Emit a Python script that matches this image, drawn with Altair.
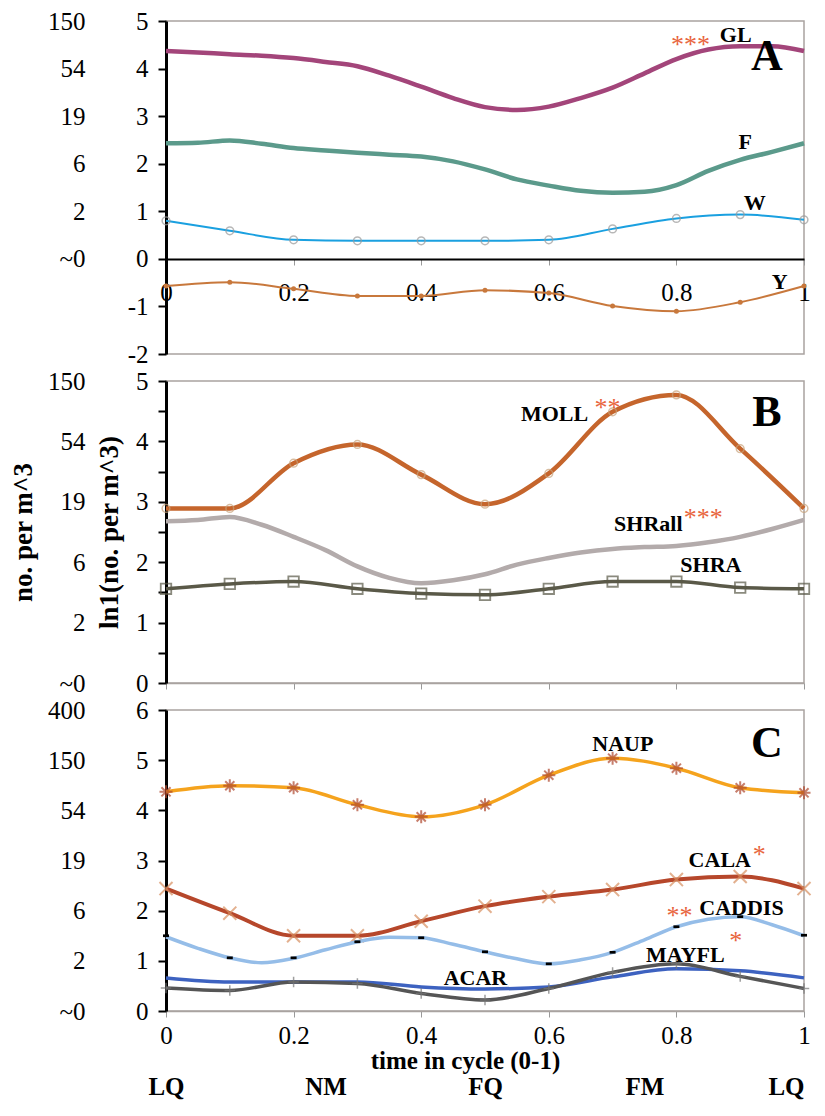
import altair as alt
import pandas as pd

FONT = "Liberation Serif"

# ---------------- data ----------------
T10 = [0.0, 0.1, 0.2, 0.3, 0.4, 0.5, 0.6, 0.7, 0.8, 0.9, 1.0]
T05 = [0.0, 0.05, 0.1, 0.15, 0.2, 0.25, 0.3, 0.35, 0.4, 0.45, 0.5,
       0.55, 0.6, 0.65, 0.7, 0.75, 0.8, 0.85, 0.9, 0.95, 1.0]

# Panel A
GL = [4.37, 4.34, 4.30, 4.27, 4.22, 4.14, 4.05, 3.85, 3.62, 3.38, 3.19,
      3.13, 3.20, 3.38, 3.60, 3.90, 4.20, 4.40, 4.47, 4.47, 4.37]
F = [2.43, 2.44, 2.49, 2.42, 2.33, 2.28, 2.23, 2.19, 2.15, 2.05, 1.88,
     1.67, 1.54, 1.43, 1.39, 1.41, 1.55, 1.85, 2.08, 2.25, 2.43]
W = [0.80, 0.59, 0.40, 0.38, 0.38, 0.38, 0.40, 0.63, 0.85, 0.93, 0.82]
Y = [-0.57, -0.49, -0.63, -0.78, -0.78, -0.66, -0.72, -0.99, -1.10, -0.91, -0.57]

# Panel B
MOLL = [2.89, 2.89, 3.64, 3.95, 3.45, 2.96, 3.47, 4.49, 4.77, 3.88, 2.89]
SHRALL = [2.68, 2.70, 2.75, 2.62, 2.42, 2.20, 1.93, 1.74, 1.65, 1.70, 1.80,
          1.96, 2.07, 2.16, 2.22, 2.25, 2.27, 2.33, 2.42, 2.55, 2.70]
SHRA = [1.56, 1.64, 1.68, 1.56, 1.48, 1.46, 1.56, 1.68, 1.68, 1.58, 1.56]

# Panel C
NAUP = [4.37, 4.49, 4.45, 4.11, 3.87, 4.11, 4.70, 5.04, 4.84, 4.45, 4.35]
CALA = [2.44, 1.95, 1.50, 1.50, 1.79, 2.09, 2.28, 2.42, 2.62, 2.68, 2.44]
CADDIS_LINE = [1.48, 1.25, 1.06, 0.96, 1.05, 1.22, 1.38, 1.47, 1.46, 1.33, 1.18,
               1.04, 0.94, 1.02, 1.17, 1.42, 1.68, 1.83, 1.88, 1.72, 1.50]
CADDIS_PTS = [1.50, 1.06, 1.06, 1.38, 1.46, 1.18, 0.94, 1.17, 1.68, 1.88, 1.51]
MAYFL = [0.66, 0.58, 0.58, 0.58, 0.48, 0.44, 0.48, 0.68, 0.84, 0.80, 0.66]
ACAR = [0.46, 0.41, 0.58, 0.55, 0.35, 0.22, 0.45, 0.77, 0.94, 0.69, 0.45]

# series labels
LAB_A = ["GL", "F", "W", "Y"]
LAB_A_T = [0.893, 0.908, 0.923, 0.962]
LAB_A_V = [4.70, 2.45, 1.18, -0.49]
STAR_A = ["***"]
STAR_A_T = [0.822]
STAR_A_V = [4.50]

LAB_B = ["MOLL", "SHRall", "SHRA"]
LAB_B_T = [0.609, 0.756, 0.854]
LAB_B_V = [4.46, 2.64, 1.95]
STAR_B = ["**", "***"]
STAR_B_T = [0.692, 0.842]
STAR_B_V = [4.56, 2.74]

LAB_C = ["NAUP", "CALA", "CADDIS", "MAYFL", "ACAR"]
LAB_C_T = [0.716, 0.868, 0.902, 0.814, 0.485]
LAB_C_V = [5.33, 3.01, 2.05, 1.12, 0.65]
STAR_C = ["*", "**", "*"]
STAR_C_T = [0.930, 0.805, 0.893]
STAR_C_V = [3.10, 1.90, 1.40]

PANEL_LETTERS = ["A", "B", "C"]
LETTER_T = [0.942, 0.942, 0.942]
LETTER_V = [4.25, 4.47, 5.33]

# axis labels
X_TICKS = [0, 0.2, 0.4, 0.6, 0.8, 1]
IN_A = [-2, -1, 0, 1, 2, 3, 4, 5]
IN_B = [0, 0.5, 1, 1.5, 2, 2.5, 3, 3.5, 4, 4.5, 5]
IN_C = [0, 1, 2, 3, 4, 5, 6]
OUT_AB_V = [0, 1, 2, 3, 4, 5]
OUT_AB_L = ["~0", "2", "6", "19", "54", "150"]
OUT_C_V = [0, 1, 2, 3, 4, 5, 6]
OUT_C_L = ["~0", "2", "6", "19", "54", "150", "400"]
PHASE_T = [0, 0.25, 0.5, 0.75, 1]
PHASE_L = ["LQ", "NM", "FQ", "FM", "LQ"]

W_PLOT = 638
H_A, H_B, H_C = 333, 302, 301
FRAME = "#a9a3a0"
STAR_COLOR = "#e8643c"

# marker shapes (unit square paths)
ASTER = "M-1,0L1,0M0,-1L0,1M-0.7,-0.7L0.7,0.7M-0.7,0.7L0.7,-0.7"
XSHAPE = "M-1,-1L1,1M-1,1L1,-1"
PLUS = "M-1,0L1,0M0,-1L0,1"
DASH = "M-1,-0.45L1,-0.45L1,0.45L-1,0.45Z"


def label_expr(values, labels):
    expr = "''"
    for v, l in zip(values, labels):
        expr = f"datum.value == {v} ? '{l}' : ({expr})"
    return expr


def yscale(domain):
    return alt.Scale(domain=domain, nice=False, zero=False)


def inner_y_axis(values, expr, title):
    return alt.Axis(orient="left", values=values, labelExpr=expr, domainColor="black",
                    domainWidth=3, tickColor="black", tickWidth=2, tickSize=8,
                    labelPadding=10, labelFlush=False, labelOverlap=False, title=title,
                    titlePadding=12)


def line(t, v, X, Yenc, color, width):
    df = pd.DataFrame({"t": t, "v": v})
    return alt.Chart(df).mark_line(color=color, strokeWidth=width,
                                   interpolate="monotone").encode(x=X, y=Yenc)


def pts(t, v, X, Yenc, **kw):
    df = pd.DataFrame({"t": t, "v": v})
    return alt.Chart(df).mark_point(**kw).encode(x=X, y=Yenc)


def texts(labels, tt, vv, X, Yenc, size, color="black", weight="bold"):
    df = pd.DataFrame({"t": tt, "v": vv, "lab": labels})
    return alt.Chart(df).mark_text(font=FONT, fontSize=size, fontWeight=weight, color=color,
                                   align="center", baseline="middle").encode(
        x=X, y=Yenc, text="lab:N")


def outer_layer(values, labels, domain, title):
    df = pd.DataFrame({"v": values})
    ax = alt.Axis(orient="left", values=values, labelExpr=label_expr(values, labels),
                  offset=78, domain=False, ticks=False, tickSize=0, labelPadding=3,
                  labelFlush=False, labelOverlap=False, title=title, titlePadding=10)
    return alt.Chart(df).mark_point(opacity=0).encode(
        y=alt.Y("v:Q", scale=yscale(domain), axis=ax))


XS = alt.Scale(domain=[0, 1], nice=False, zero=False)
LBL = 22
STAR = 26

# ---------------- panel A ----------------
xa = alt.X("t:Q", scale=XS, axis=alt.Axis(
    orient="bottom", offset=-round(H_A * 2 / 7), values=X_TICKS, labelExpr="'' + datum.value",
    labelFlush=False, labelOverlap=False, domainColor="black", domainWidth=2,
    tickColor="#999999", tickSize=6, labelPadding=15, title=None))
ya = alt.Y("v:Q", scale=yscale([-2, 5]), axis=inner_y_axis(
    IN_A, "datum.value < 0 ? '-' + abs(datum.value) : '' + datum.value", None))

inner_A = alt.layer(
    line(T05, GL, xa, ya, "#a3457a", 4.5),
    line(T05, F, xa, ya, "#5b9a8b", 4.5),
    line(T10, W, xa, ya, "#1aa0e0", 2),
    pts(T10, W, xa, ya, shape="circle", filled=False, color="#9a9a9a", size=60, strokeWidth=1.5),
    line(T10, Y, xa, ya, "#c8783c", 2),
    pts(T10, Y, xa, ya, shape="circle", filled=True, color="#c8783c", size=25, opacity=1),
    texts(LAB_A, LAB_A_T, LAB_A_V, xa, ya, LBL),
    texts(STAR_A, STAR_A_T, STAR_A_V, xa, ya, STAR, STAR_COLOR, "normal"),
    texts(PANEL_LETTERS[:1], LETTER_T[:1], LETTER_V[:1], xa, ya, 44),
)
panel_A = alt.layer(inner_A, outer_layer(OUT_AB_V, OUT_AB_L, [-2, 5], None)).resolve_scale(
    y="independent").properties(width=W_PLOT, height=H_A)

# ---------------- panel B ----------------
xb = alt.X("t:Q", scale=XS, axis=alt.Axis(
    orient="bottom", values=X_TICKS, labels=False, domainColor=FRAME, domainWidth=1.5,
    tickColor="#999999", tickSize=6, title=None))
yb = alt.Y("v:Q", scale=yscale([0, 5]), axis=inner_y_axis(
    IN_B, "datum.value % 1 == 0 ? '' + datum.value : ''", "ln1(no. per m^3)"))

inner_B = alt.layer(
    line(T10, MOLL, xb, yb, "#c5652c", 4.5),
    pts(T10, MOLL, xb, yb, shape="circle", filled=False, color="#c8a27a", size=60, strokeWidth=1.5),
    line(T05, SHRALL, xb, yb, "#b3abab", 4.5),
    line(T10, SHRA, xb, yb, "#5a5948", 3.5),
    pts(T10, SHRA, xb, yb, shape="square", filled=False, color="#5a5948", size=110, strokeWidth=1.8),
    texts(LAB_B, LAB_B_T, LAB_B_V, xb, yb, LBL),
    texts(STAR_B, STAR_B_T, STAR_B_V, xb, yb, STAR, STAR_COLOR, "normal"),
    texts(PANEL_LETTERS[1:2], LETTER_T[1:2], LETTER_V[1:2], xb, yb, 44),
)
panel_B = alt.layer(inner_B, outer_layer(OUT_AB_V, OUT_AB_L, [0, 5], "no. per m^3")).resolve_scale(
    y="independent").properties(width=W_PLOT, height=H_B)

# ---------------- panel C ----------------
xc = alt.X("t:Q", scale=XS, axis=alt.Axis(
    orient="bottom", values=X_TICKS, labelExpr="'' + datum.value", labelFlush=False,
    labelOverlap=False, domainColor=FRAME, domainWidth=1.5, tickColor="#999999", tickSize=6,
    labelPadding=6, title="time in cycle (0-1)", titlePadding=0, titleFontSize=25, titleX=299))
yc = alt.Y("v:Q", scale=yscale([0, 6]), axis=inner_y_axis(IN_C, "'' + datum.value", None))

inner_C = alt.layer(
    line(T10, NAUP, xc, yc, "#f5a31d", 3.5),
    pts(T10, NAUP, xc, yc, shape=ASTER, filled=False, color="#b0482e", size=170, strokeWidth=2),
    line(T10, CALA, xc, yc, "#b6472b", 4),
    pts(T10, CALA, xc, yc, shape=XSHAPE, filled=False, color="#d89060", size=170, strokeWidth=2),
    line(T05, CADDIS_LINE, xc, yc, "#95bde8", 3.5),
    pts(T10, CADDIS_PTS, xc, yc, shape=DASH, filled=True, color="black", size=36, opacity=1),
    line(T10, MAYFL, xc, yc, "#3d62c0", 3.5),
    line(T10, ACAR, xc, yc, "#555555", 3.5),
    pts(T10, ACAR, xc, yc, shape=PLUS, filled=False, color="#777777", size=110, strokeWidth=1.5),
    texts(LAB_C, LAB_C_T, LAB_C_V, xc, yc, LBL),
    texts(STAR_C, STAR_C_T, STAR_C_V, xc, yc, STAR, STAR_COLOR, "normal"),
    texts(PANEL_LETTERS[2:], LETTER_T[2:], LETTER_V[2:], xc, yc, 44),
)
phase_df = pd.DataFrame({"t": PHASE_T})
phase_layer = alt.Chart(phase_df).mark_point(opacity=0).encode(
    x=alt.X("t:Q", scale=XS, axis=alt.Axis(
        orient="bottom", values=PHASE_T, labelExpr=label_expr(PHASE_T, PHASE_L), offset=63,
        domain=False, ticks=False, tickSize=0, labelPadding=0, labelFlush=False,
        labelAlign={"condition": {"test": "datum.value == 1", "value": "right"}, "value": "center"},
        labelOverlap=False, labelFontWeight="bold", labelFontSize=25, title=None)))
panel_C = alt.layer(inner_C, outer_layer(OUT_C_V, OUT_C_L, [0, 6], None), phase_layer).resolve_scale(
    x="independent", y="independent").properties(width=W_PLOT, height=H_C)

chart = alt.vconcat(panel_A, panel_B, panel_C, spacing=27, bounds="flush").configure(
    padding={"left": 0, "top": 0, "right": 0, "bottom": 0}
).configure_view(stroke=FRAME, strokeWidth=1.5).configure_axis(
    labelFont=FONT, labelFontSize=25, labelColor="black", titleFont=FONT, titleFontSize=27,
    titleFontWeight="bold", titleColor="black", grid=False
)

chart.save("out.html", embed_options={"renderer": "svg", "actions": False})
